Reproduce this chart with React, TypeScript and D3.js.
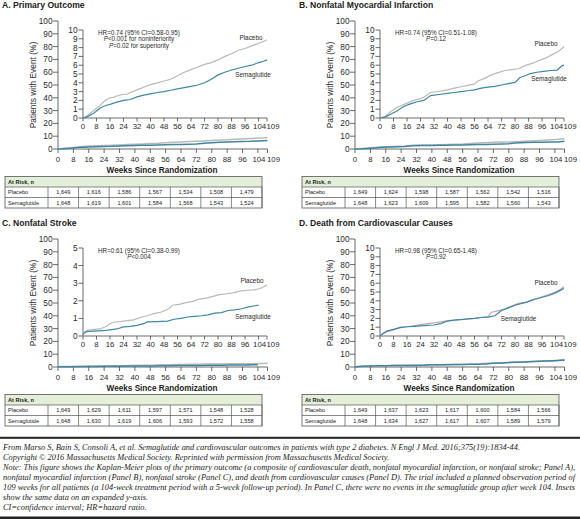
import React from "react";
import * as d3 from "d3";

type Pt = [number, number];

const WEEK_TICKS = [0, 8, 16, 24, 32, 40, 48, 56, 64, 72, 80, 88, 96, 104, 109];
const OUTER_Y_TICKS = [0, 10, 20, 30, 40, 50, 60, 70, 80, 90, 100];
const INSET_TICKS_10 = [0, 1, 2, 3, 4, 5, 6, 7, 8, 9, 10];
const INSET_TICKS_5 = [0, 1, 2, 3, 4, 5];

const placeboA: Pt[] = [[0,0],[2,0.2],[4,0.5],[6,0.8],[8,1.1],[10,1.4],[12,1.8],[14,2.1],[16,2.3],[18,2.35],[20,2.5],[24,2.7],[26,2.7],[28,2.9],[32,3.2],[36,3.5],[40,3.8],[44,4.0],[48,4.2],[52,4.4],[56,4.8],[60,5.2],[64,5.5],[68,5.8],[72,6.1],[76,6.3],[80,6.6],[84,7.0],[88,7.3],[92,7.7],[96,7.9],[100,8.2],[104,8.5],[107,8.7],[109,8.9]];
const semaA: Pt[] = [[0,0],[2,0.1],[4,0.3],[6,0.5],[8,0.8],[10,1.1],[12,1.3],[14,1.45],[16,1.55],[20,1.8],[24,2.0],[28,2.1],[32,2.4],[36,2.6],[40,2.75],[44,2.9],[48,3.0],[52,3.15],[56,3.3],[60,3.45],[64,3.6],[68,3.75],[72,4.0],[76,4.4],[80,4.9],[84,5.2],[88,5.45],[92,5.65],[96,5.85],[100,6.0],[104,6.3],[107,6.45],[109,6.6]];

const placeboB: Pt[] = [[0,0],[3,0.2],[6,0.65],[10,1.2],[15,1.6],[20,2.0],[24,2.2],[26,2.35],[30,2.9],[36,3.05],[40,3.2],[44,3.4],[48,3.55],[52,3.7],[56,3.85],[58,4.2],[62,4.5],[66,4.9],[70,5.15],[74,5.4],[78,5.5],[82,5.6],[86,5.95],[90,6.2],[94,6.5],[98,6.8],[102,7.2],[106,7.6],[109,8.1]];
const semaB: Pt[] = [[0,0],[3,0.1],[6,0.4],[10,0.8],[14,1.3],[18,1.6],[22,1.85],[26,2.0],[30,2.55],[36,2.7],[40,2.8],[44,2.9],[48,3.0],[52,3.1],[56,3.2],[60,3.4],[64,3.5],[68,3.6],[72,3.75],[76,3.9],[80,4.05],[83,4.6],[86,4.8],[89,5.05],[93,5.2],[97,5.3],[101,5.4],[105,5.45],[108,5.95],[109,6.0]];

const placeboC: Pt[] = [[0,0.15],[2,0.3],[4,0.35],[10,0.4],[14,0.55],[16,0.7],[18,0.78],[22,0.82],[26,0.87],[30,0.92],[34,1.05],[38,1.15],[42,1.27],[46,1.35],[50,1.5],[53,1.75],[57,1.8],[61,1.9],[65,1.97],[69,2.1],[73,2.15],[77,2.25],[81,2.35],[85,2.4],[89,2.45],[93,2.55],[97,2.6],[101,2.62],[105,2.7],[107,2.8],[109,2.9]];
const semaC: Pt[] = [[0,0.1],[2,0.25],[6,0.28],[12,0.3],[16,0.35],[20,0.4],[24,0.52],[28,0.55],[32,0.6],[36,0.7],[38,0.8],[44,0.82],[50,0.85],[54,0.95],[58,1.0],[62,1.08],[66,1.12],[70,1.15],[74,1.2],[78,1.3],[82,1.33],[86,1.45],[90,1.48],[94,1.55],[98,1.65],[102,1.72],[104,1.75]];

const placeboD: Pt[] = [[0,0],[2,0.3],[4,0.5],[8,0.7],[12,1.0],[16,1.05],[20,1.15],[24,1.3],[28,1.4],[32,1.5],[36,1.6],[40,1.75],[44,1.8],[48,1.9],[52,1.95],[56,2.0],[60,2.1],[64,2.2],[66,2.7],[70,2.85],[74,3.1],[78,3.4],[82,3.7],[86,3.8],[90,4.1],[94,4.3],[98,4.6],[102,4.85],[106,5.2],[109,5.6]];
const semaD: Pt[] = [[0,0],[2,0.3],[4,0.55],[8,0.75],[12,0.95],[16,1.05],[20,1.1],[24,1.15],[28,1.2],[32,1.25],[36,1.4],[40,1.7],[44,1.8],[48,1.85],[52,1.95],[56,2.0],[60,2.1],[64,2.15],[68,2.3],[72,2.9],[76,3.2],[80,3.5],[84,3.7],[88,3.9],[92,4.2],[96,4.4],[100,4.6],[104,4.9],[108,5.3],[109,5.4]];

const riskPlaceboA = [1649, 1616, 1586, 1567, 1534, 1508, 1479];
const riskSemaA = [1648, 1619, 1601, 1584, 1568, 1543, 1524];
const riskPlaceboB = [1649, 1624, 1598, 1587, 1562, 1542, 1516];
const riskSemaB = [1648, 1623, 1609, 1595, 1582, 1560, 1543];
const riskPlaceboC = [1649, 1629, 1611, 1597, 1571, 1548, 1528];
const riskSemaC = [1648, 1630, 1619, 1606, 1593, 1572, 1558];
const riskPlaceboD = [1649, 1637, 1623, 1617, 1600, 1584, 1566];
const riskSemaD = [1648, 1634, 1627, 1617, 1607, 1589, 1579];

const FOOTER = [
  "From Marso S, Bain S, Consoli A, et al. Semaglutide and cardiovascular outcomes in patients with type 2 diabetes. N Engl J Med. 2016;375(19):1834-44.",
  "Copyright © 2016 Massachusetts Medical Society. Reprinted with permission from Massachusetts Medical Society.",
  "Note: This figure shows the Kaplan-Meier plots of the primary outcome (a composite of cardiovascular death, nonfatal myocardial infarction, or nonfatal stroke; Panel A),",
  "nonfatal myocardial infarction (Panel B), nonfatal stroke (Panel C), and death from cardiovascular causes (Panel D). The trial included a planned observation period of",
  "109 weeks for all patients (a 104-week treatment period with a 5-week follow-up period). In Panel C, there were no events in the semaglutide group after week 104. Insets",
  "show the same data on an expanded y-axis.",
  "CI=confidence interval; HR=hazard ratio.",
];
const FOOTER_JUSTIFY = [false, false, true, true, true, false, false];

const TEAL = "#3f86a0";
const GRAY = "#b9b9b9";
const AXIS = "#444";
const TXT = "#2a2a2a";
const SANS = "'Liberation Sans', Arial, sans-serif";

type Ann = { text: string; italicP?: boolean };

interface PanelProps {
  dx: number;
  dy: number;
  title: string;
  insetMax: number;
  insetTicks: number[];
  ann: Ann[];
  placebo: Pt[];
  sema: Pt[];
  placeboColor: string;
  placeboLbl: [number, number];
  semaLbl: [number, number];
  riskP: number[];
  riskS: number[];
}

const fmt = d3.format(",");

function Panel(p: PanelProps) {
  const ox = d3.scaleLinear().domain([0, 109]).range([58, 267.5]);
  const oy = d3.scaleLinear().domain([0, 100]).range([149, 21]);
  const ix = d3.scaleLinear().domain([0, 109]).range([83, 267]);
  const iy = d3.scaleLinear().domain([0, p.insetMax]).range([118, 30]);

  const lineO = d3.line<Pt>().x(d => ox(d[0])).y(d => oy(d[1])).curve(d3.curveLinear);
  const lineI = d3.line<Pt>().x(d => ix(d[0])).y(d => iy(d[1])).curve(d3.curveLinear);

  const labelShift = (t: number) => (t === 104 ? 1 : t === 109 ? 6 : 0);

  const tblL = 5, tblR = 262, lblR = 48, tblT = 176.5, rowH = 10.5;
  const colW = (tblR - lblR) / 7;

  return (
    <g transform={`translate(${p.dx},${p.dy})`} fontFamily={SANS}>
      <text x={2} y={8} fontSize={8.6} fontWeight="bold" fill="#222">{p.title}</text>

      {/* outer axes */}
      <line x1={ox(0)} x2={ox(0)} y1={oy(0)} y2={oy(100)} stroke={AXIS} strokeWidth={0.8} />
      <line x1={ox(0)} x2={ox(109)} y1={oy(0)} y2={oy(0)} stroke={AXIS} strokeWidth={0.8} />
      {OUTER_Y_TICKS.map(t => (
        <g key={"oy" + t}>
          <line x1={ox(0) - 5} x2={ox(0)} y1={oy(t)} y2={oy(t)} stroke={AXIS} strokeWidth={0.8} />
          <text x={ox(0) - 5.5} y={oy(t) + 3} fontSize={8.3} textAnchor="end" fill={TXT}>{t}</text>
        </g>
      ))}
      {WEEK_TICKS.map(t => (
        <g key={"ox" + t}>
          <line x1={ox(t)} x2={ox(t)} y1={oy(0)} y2={oy(0) + 4} stroke={AXIS} strokeWidth={0.8} />
          <text x={ox(t) + labelShift(t)} y={162.3} fontSize={7.8} textAnchor="middle" fill={TXT}>{t}</text>
        </g>
      ))}
      <text x={162} y={173} fontSize={8.2} fontWeight="bold" textAnchor="middle" fill="#222">Weeks Since Randomization</text>
      <text transform="translate(35.5,85) rotate(-90)" fontSize={8.4} textAnchor="middle" fill={TXT}>Patients with Event (%)</text>

      {/* outer curves */}
      <path d={lineO(p.placebo) || ""} fill="none" stroke={p.placeboColor} strokeWidth={1.5} />
      <path d={lineO(p.sema) || ""} fill="none" stroke={TEAL} strokeWidth={1.5} />

      {/* inset axes */}
      <line x1={ix(0)} x2={ix(0)} y1={iy(0)} y2={iy(p.insetMax)} stroke={AXIS} strokeWidth={0.8} />
      <line x1={ix(0)} x2={ix(109)} y1={iy(0)} y2={iy(0)} stroke={AXIS} strokeWidth={0.8} />
      {p.insetTicks.map(t => (
        <g key={"iy" + t}>
          <line x1={ix(0) - 4.5} x2={ix(0)} y1={iy(t)} y2={iy(t)} stroke={AXIS} strokeWidth={0.8} />
          <text x={ix(0) - 5.5} y={iy(t) + 3} fontSize={8.3} textAnchor="end" fill={TXT}>{t}</text>
        </g>
      ))}
      {WEEK_TICKS.map(t => (
        <g key={"ix" + t}>
          <line x1={ix(t)} x2={ix(t)} y1={iy(0)} y2={iy(0) + 3.5} stroke={AXIS} strokeWidth={0.8} />
          <text x={ix(t) + labelShift(t)} y={129} fontSize={7.8} textAnchor="middle" fill={TXT}>{t}</text>
        </g>
      ))}

      {/* inset curves */}
      <path d={lineI(p.placebo) || ""} fill="none" stroke={p.placeboColor} strokeWidth={1.2} />
      <path d={lineI(p.sema) || ""} fill="none" stroke={TEAL} strokeWidth={1.2} />

      {/* annotations */}
      {p.ann.map((a, i) => (
        <text key={"a" + i} x={139} y={34.5 + i * 6.6} fontSize={6.3} textAnchor="middle" fill={TXT}>
          {a.italicP ? (<><tspan fontStyle="italic">P</tspan>{a.text}</>) : a.text}
        </text>
      ))}
      <text x={p.placeboLbl[0]} y={p.placeboLbl[1] + 2.2} fontSize={6.4} textAnchor="middle" fill={TXT}>Placebo</text>
      <text x={p.semaLbl[0]} y={p.semaLbl[1] + 2.2} fontSize={6.4} textAnchor="middle" fill={TXT}>Semaglutide</text>

      {/* at-risk table */}
      <rect x={tblL} y={tblT} width={tblR - tblL} height={rowH} fill="#e3efd9" />
      <rect x={tblL} y={tblT} width={tblR - tblL} height={rowH * 3} fill="none" stroke="#555" strokeWidth={0.8} />
      <line x1={tblL} x2={tblR} y1={tblT + rowH} y2={tblT + rowH} stroke="#555" strokeWidth={0.7} />
      <line x1={tblL} x2={tblR} y1={tblT + rowH * 2} y2={tblT + rowH * 2} stroke="#555" strokeWidth={0.7} />
      {d3.range(8).map(i => (
        <line key={"c" + i} x1={lblR + i * colW} x2={lblR + i * colW} y1={tblT + rowH} y2={tblT + rowH * 3} stroke="#555" strokeWidth={0.7} />
      ))}
      <text x={tblL + 3} y={tblT + 7.2} fontSize={5.6} fontWeight="bold" fill="#222">At Risk, n</text>
      <text x={tblL + 3} y={tblT + rowH + 7.2} fontSize={5.6} fill="#222">Placebo</text>
      <text x={tblL + 3} y={tblT + rowH * 2 + 7.2} fontSize={5.6} fill="#222">Semaglutide</text>
      {p.riskP.map((v, i) => (
        <text key={"rp" + i} x={lblR + (i + 0.5) * colW} y={tblT + rowH + 7.2} fontSize={5.6} textAnchor="middle" fill="#222">{fmt(v)}</text>
      ))}
      {p.riskS.map((v, i) => (
        <text key={"rs" + i} x={lblR + (i + 0.5) * colW} y={tblT + rowH * 2 + 7.2} fontSize={5.6} textAnchor="middle" fill="#222">{fmt(v)}</text>
      ))}
    </g>
  );
}

export default function App() {
  return (
    <svg width={580} height={519} style={{ position: "absolute", left: 0, top: 0, background: "#fff" }}>
      <rect width={580} height={519} fill="#fff" />
      <Panel dx={0} dy={0} title="A. Primary Outcome" insetMax={10} insetTicks={INSET_TICKS_10}
        ann={[{ text: "HR=0.74 (95% CI=0.58-0.95)" }, { text: "<0.001 for noninferiority", italicP: true }, { text: "=0.02 for superiority", italicP: true }]}
        placebo={placeboA} sema={semaA} placeboColor={GRAY}
        placeboLbl={[251, 37.7]} semaLbl={[253, 75]} riskP={riskPlaceboA} riskS={riskSemaA} />
      <Panel dx={297} dy={0} title="B. Nonfatal Myocardial Infarction" insetMax={10} insetTicks={INSET_TICKS_10}
        ann={[{ text: "HR=0.74 (95% CI=0.51-1.08)" }, { text: "=0.12", italicP: true }]}
        placebo={placeboB} sema={semaB} placeboColor={GRAY}
        placeboLbl={[249, 43.3]} semaLbl={[252, 79]} riskP={riskPlaceboB} riskS={riskSemaB} />
      <Panel dx={0} dy={218} title="C. Nonfatal Stroke" insetMax={5} insetTicks={INSET_TICKS_5}
        ann={[{ text: "HR=0.61 (95% CI=0.38-0.99)" }, { text: "<0.004", italicP: true }]}
        placebo={placeboC} sema={semaC} placeboColor={GRAY}
        placeboLbl={[252, 63]} semaLbl={[253, 98.7]} riskP={riskPlaceboC} riskS={riskSemaC} />
      <Panel dx={297} dy={218} title="D. Death from Cardiovascular Causes" insetMax={10} insetTicks={INSET_TICKS_10}
        ann={[{ text: "HR=0.98 (95% CI=0.65-1.48)" }, { text: "=0.92", italicP: true }]}
        placebo={placeboD} sema={semaD} placeboColor="#c4a6ab"
        placeboLbl={[249, 64.3]} semaLbl={[221.5, 100.3]} riskP={riskPlaceboD} riskS={riskSemaD} />

      <rect x={0} y={436.8} width={580} height={2} fill="#222" />
      {FOOTER.map((line, i) => (
        <text key={"f" + i} x={3} y={449.5 + i * 10.1} fontSize={8.4} fontStyle="italic"
          fontFamily="'Liberation Serif', 'Times New Roman', serif" fill="#222"
          textLength={FOOTER_JUSTIFY[i] ? 572 : undefined}
          lengthAdjust={FOOTER_JUSTIFY[i] ? "spacingAndGlyphs" : undefined}>{line}</text>
      ))}
      <rect x={0} y={516.5} width={580} height={2.5} fill="#222" />
    </svg>
  );
}
